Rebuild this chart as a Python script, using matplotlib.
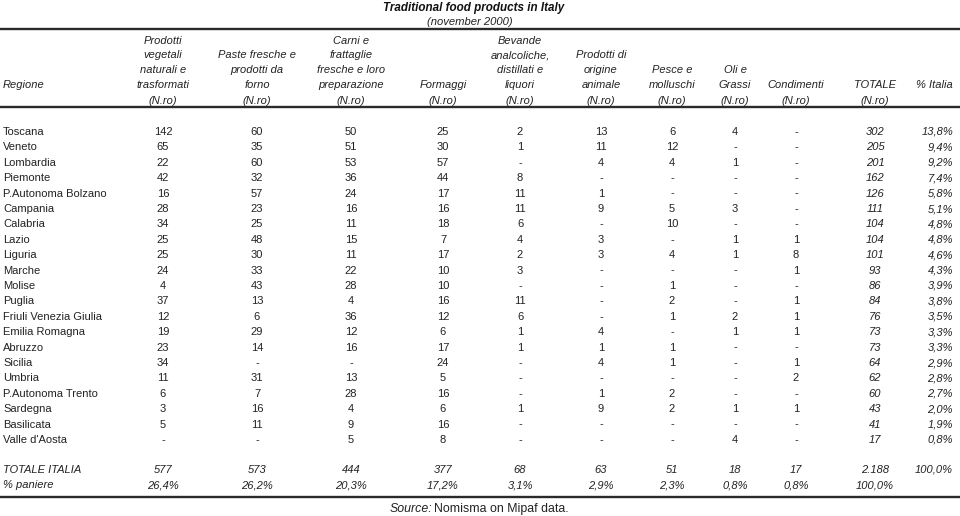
import matplotlib
matplotlib.use("Agg")
import matplotlib.pyplot as plt
from matplotlib.lines import Line2D

plt.rcParams['font.family'] = ['Liberation Sans', 'DejaVu Sans']

# Table data (None = "-")
regions = ["Toscana", "Veneto", "Lombardia", "Piemonte", "P.Autonoma Bolzano",
           "Campania", "Calabria", "Lazio", "Liguria", "Marche", "Molise", "Puglia",
           "Friuli Venezia Giulia", "Emilia Romagna", "Abruzzo", "Sicilia", "Umbria",
           "P.Autonoma Trento", "Sardegna", "Basilicata", "Valle d'Aosta"]

vegetali = [142, 65, 22, 42, 16, 28, 34, 25, 25, 24, 4, 37, 12, 19, 23, 34, 11, 6, 3, 5, None]
paste = [60, 35, 60, 32, 57, 23, 25, 48, 30, 33, 43, 13, 6, 29, 14, None, 31, 7, 16, 11, None]
carni = [50, 51, 53, 36, 24, 16, 11, 15, 11, 22, 28, 4, 36, 12, 16, None, 13, 28, 4, 9, 5]
formaggi = [25, 30, 57, 44, 17, 16, 18, 7, 17, 10, 10, 16, 12, 6, 17, 24, 5, 16, 6, 16, 8]
bevande = [2, 1, None, 8, 11, 11, 6, 4, 2, 3, None, 11, 6, 1, 1, None, None, None, 1, None, None]
animale = [13, 11, 4, None, 1, 9, None, 3, 3, None, None, None, None, 4, 1, 4, None, 1, 9, None, None]
pesce = [6, 12, 4, None, None, 5, 10, None, 4, None, 1, 2, 1, None, 1, 1, None, 2, 2, None, None]
oli = [4, None, 1, None, None, 3, None, 1, 1, None, None, None, 2, 1, None, None, None, None, 1, None, 4]
condimenti = [None, None, None, None, None, None, None, 1, 8, 1, None, 1, 1, 1, None, 1, 2, None, 1, None, None]
totale = [302, 205, 201, 162, 126, 111, 104, 104, 101, 93, 86, 84, 76, 73, 73, 64, 62, 60, 43, 41, 17]
pct_italia = [13.8, 9.4, 9.2, 7.4, 5.8, 5.1, 4.8, 4.8, 4.6, 4.3, 3.9, 3.8, 3.5, 3.3, 3.3,
              2.9, 2.8, 2.7, 2.0, 1.9, 0.8]

tot_italia = [577, 573, 444, 377, 68, 63, 51, 18, 17, 2188]
pct_paniere = [26.4, 26.2, 20.3, 17.2, 3.1, 2.9, 2.3, 0.8, 0.8, 100.0]
tot_pct = 100.0

headers = [["Prodotti", "vegetali", "naturali e", "trasformati"],
           ["Paste fresche e", "prodotti da", "forno"],
           ["Carni e", "frattaglie", "fresche e loro", "preparazione"],
           ["Formaggi"],
           ["Bevande", "analcoliche,", "distillati e", "liquori"],
           ["Prodotti di", "origine", "animale"],
           ["Pesce e", "molluschi"],
           ["Oli e", "Grassi"],
           ["Condimenti"],
           ["TOTALE"]]

columns = [vegetali, paste, carni, formaggi, bevande, animale, pesce, oli, condimenti]

W, H = 960, 516
fig = plt.figure(figsize=(9.6, 5.16), dpi=100)
fig.patch.set_facecolor('white')


def put(x, y, s, **kw):
    # y is the visual middle of the capitals; place text on its baseline
    kw.setdefault('fontsize', 8.0)
    kw.setdefault('color', '#222222')
    fs = kw['fontsize']
    fig.text(x / W, 1 - (y + fs * 0.5) / H, s, va='baseline', **kw)


def fmt_num(v):
    if v is None:
        return "-"
    if v >= 1000:
        return f"{v:,}".replace(",", ".")
    return str(v)


def fmt_pct(v):
    return f"{v:.1f}%".replace(".", ",")


col_x = [163, 257, 351, 443, 520, 601, 672, 735, 796, 875]
pct_right = 953

# title
put(474, 6.5, "Traditional food products in Italy", ha='center', fontsize=8.4,
    fontweight='bold', style='italic', color='#111111')
put(470, 21, "(november 2000)", ha='center', fontsize=8.1, style='italic')

# rules
for y in [29, 106.5, 496.5]:
    fig.add_artist(Line2D([0, 1], [1 - y / H, 1 - y / H], color='#2a2a2a', lw=1.7))

# header
line_y = [84.5, 69, 54, 39.5]
put(3, 84.5, "Regione", ha='left', style='italic')
for x, lines in zip(col_x, headers):
    for i, s in enumerate(reversed(lines)):
        put(x, line_y[i], s, ha='center', style='italic')
    put(x, 100, "(N.ro)", ha='center', style='italic')
put(pct_right, 84.5, "% Italia", ha='right', style='italic')

# body
row0, step = 131, 15.4
for r, name in enumerate(regions):
    y = row0 + r * step
    put(3, y, name, ha='left')
    for x, col in zip(col_x, columns):
        put(x, y, fmt_num(col[r]), ha='center')
    put(col_x[-1], y, fmt_num(totale[r]), ha='center', style='italic')
    put(pct_right, y, fmt_pct(pct_italia[r]), ha='right', style='italic')

# totals
put(3, 469, "TOTALE ITALIA", ha='left', style='italic')
put(3, 484, "% paniere", ha='left', style='italic')
for x, v, p in zip(col_x, tot_italia, pct_paniere):
    put(x, 469, fmt_num(v), ha='center', style='italic')
    put(x, 484, fmt_pct(p), ha='center', style='italic')
put(pct_right, 469, fmt_pct(tot_pct), ha='right', style='italic')

# source
put(432, 508, "Source:", ha='right', style='italic', fontsize=8.9)
put(434, 508, "Nomisma on Mipaf data.", ha='left', fontsize=8.9)

fig.savefig("out.png", dpi=100)
